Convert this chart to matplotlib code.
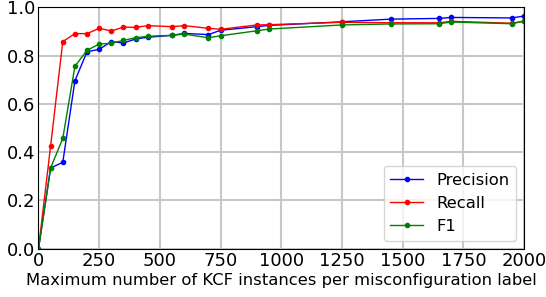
import matplotlib
matplotlib.use("Agg")
import matplotlib.pyplot as plt

x = [0, 50, 100, 150, 200, 250, 300, 350, 400, 450, 550, 600, 700, 750, 900, 950,
     1250, 1450, 1650, 1700, 1950, 2000]
precision = [0.0, 0.335, 0.358, 0.696, 0.816, 0.826, 0.858, 0.852, 0.869, 0.876, 0.884,
             0.892, 0.887, 0.905, 0.920, 0.925, 0.940, 0.951, 0.954, 0.958, 0.956, 0.964]
recall = [0.0, 0.427, 0.858, 0.891, 0.891, 0.913, 0.902, 0.918, 0.917, 0.924, 0.920,
          0.924, 0.913, 0.909, 0.927, 0.928, 0.938, 0.936, 0.936, 0.942, 0.934, 0.943]
f1 = [0.0, 0.335, 0.457, 0.756, 0.822, 0.848, 0.851, 0.863, 0.874, 0.880, 0.884,
      0.889, 0.874, 0.882, 0.903, 0.910, 0.927, 0.931, 0.932, 0.939, 0.932, 0.943]

fig = plt.figure(figsize=(5.46, 2.97), dpi=100)
ax = fig.add_axes([0.0705, 0.1623, 0.8895, 0.8131])
ax.plot(x, precision, color='b', marker='o', markersize=3, linewidth=1, label='Precision')
ax.plot(x, recall, color='r', marker='o', markersize=3, linewidth=1, label='Recall')
ax.plot(x, f1, color='g', marker='o', markersize=3, linewidth=1, label='F1')
ax.set_xlim(0, 2000)
ax.set_ylim(0, 1.0)
ax.set_xticks([0, 250, 500, 750, 1000, 1250, 1500, 1750, 2000])
ax.set_yticks([0.0, 0.2, 0.4, 0.6, 0.8, 1.0])
ax.tick_params(labelsize=13, length=0, pad=2.5)
ax.grid(True, color='#c8c8c8', linewidth=1.5)
ax.set_axisbelow(True)
ax.set_xlabel('Maximum number of KCF instances per misconfiguration label', fontsize=11.8, labelpad=2)
ax.legend(loc='lower right', fontsize=11.8)
fig.savefig('out.png', dpi=100)
